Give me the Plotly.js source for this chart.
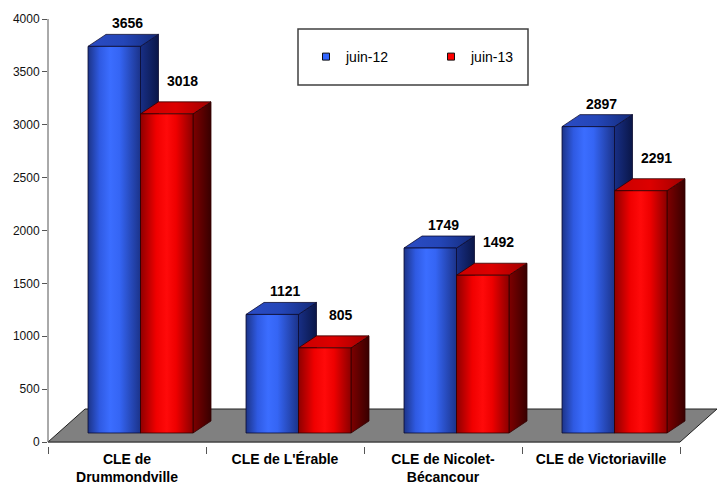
<!DOCTYPE html>
<html>
<head>
<meta charset="utf-8">
<script src="https://cdn.plot.ly/plotly-3.0.1.min.js"></script>
<style>html,body{margin:0;padding:0;background:#fff;}#chart{width:720px;height:487px;}</style>
</head>
<body>
<div id="chart"></div>
<script>
// ---- data ----
var categories = ['CLE de<br>Drummondville', "CLE de L'Érable", 'CLE de Nicolet-<br>Bécancour', 'CLE de Victoriaville'];
var seriesNames = ['juin-12', 'juin-13'];
var juin12 = [3656, 1121, 1749, 2897];
var juin13 = [3018, 805, 1492, 2291];
var yTickVals = [0, 500, 1000, 1500, 2000, 2500, 3000, 3500, 4000];

// ---- geometry (pixel-based look converted to data units) ----
var W = 720, H = 487;
var mL = 48, mR = 0, mT = 19, mB = 41;
var yMax = 4000;
var plotH = H - mT - mB;
var k = (442 - 19) / yMax;               // px per unit
var yMin = -(plotH - yMax * k) / k;
var ux = 158;                            // px per category
var plotW = W - mL - mR;
var xMin = -0.5, xMax = xMin + plotW / ux;

var pairShift = 13.5, barW = 52.5, depthX = 18, depthY = 12, lift = 9;
var floorDX = 37, floorDY = 33;

var palettes = [
  { front: [[0,'#1c3488'],[0.22,'#2f5ae2'],[0.42,'#3b6dff'],[0.6,'#3565f4'],[1,'#1b338a']],
    top:   [[0,'#2b4cc4'],[0.5,'#2446b8'],[1,'#132a78']],
    side:  [[0,'#182f86'],[1,'#0a1648']],
    edge: '#0a0a30', legend: '#3366ff' },
  { front: [[0,'#8e0000'],[0.3,'#f00000'],[0.5,'#ff0a0a'],[0.68,'#ee0000'],[1,'#8a0000']],
    top:   [[0,'#c80000'],[0.5,'#dd0000'],[1,'#a00000']],
    side:  [[0,'#7e0000'],[1,'#380000']],
    edge: '#300000', legend: '#ff0000' }
];

var traces = [];
var shapes = [];
var annotations = [];

// floor
var fdx = floorDX / ux, fdy = floorDY / k;
traces.push({
  type: 'scatter', mode: 'lines', fill: 'toself', fillcolor: '#808080',
  x: [-0.5, 3.5, 3.5 + fdx, -0.5 + fdx, -0.5],
  y: [0, 0, fdy, fdy, 0],
  line: { color: '#202020', width: 1 }, hoverinfo: 'skip', showlegend: false
});

function poly(xs, ys, scale, edge) {
  var lo = Math.min.apply(null, xs), hi = Math.max.apply(null, xs);
  return {
    type: 'scatter', mode: 'lines', fill: 'toself',
    x: xs.concat([xs[0]]), y: ys.concat([ys[0]]),
    fillgradient: { type: 'horizontal', colorscale: scale, start: lo, stop: hi },
    line: { color: edge, width: 0.8 }, hoverinfo: 'skip', showlegend: false
  };
}

var series = [juin12, juin13];
for (var i = 0; i < categories.length; i++) {
  for (var s = 0; s < 2; s++) {
    var v = series[s][i];
    var p = palettes[s];
    var xL = i + (pairShift - barW + s * barW) / ux;
    var xR = xL + barW / ux;
    var yB = lift / k, yT = v + lift / k;
    var dx = depthX / ux, dy = depthY / k;
    traces.push(poly([xR, xR + dx, xR + dx, xR], [yB, yB + dy, yT + dy, yT], p.side, p.edge));
    traces.push(poly([xL, xR, xR + dx, xL + dx], [yT, yT, yT + dy, yT + dy], p.top, p.edge));
    traces.push(poly([xL, xR, xR, xL], [yB, yB, yT, yT], p.front, p.edge));
    annotations.push({
      x: (xL + xR) / 2 + (s === 0 ? 13 : 16) / ux, y: v, xref: 'x', yref: 'y',
      text: String(v), showarrow: false, yanchor: 'middle', xanchor: 'center',
      yshift: s === 0 ? 32 : 42,
      font: { family: 'Liberation Sans, Arial, sans-serif', size: 14, color: '#000', weight: 'bold' }
    });
  }
}

// legend entries
for (var s2 = 0; s2 < 2; s2++) {
  traces.push({
    type: 'scatter', mode: 'markers', x: [null], y: [null], name: seriesNames[s2],
    marker: { symbol: 'square', size: 7, color: palettes[s2].legend, line: { color: '#101010', width: 1 } },
    showlegend: true, hoverinfo: 'skip'
  });
}

// axis lines and legend box
shapes.push({ type: 'line', xref: 'paper', yref: 'y', x0: 0, x1: 0, y0: 0, y1: yMax, line: { color: '#555', width: 1 } });
shapes.push({ type: 'line', xref: 'x', yref: 'y', x0: -0.5, x1: 3.5, y0: 0, y1: 0, line: { color: '#555', width: 1 } });
function px2paperX(px) { return (px - mL) / plotW; }
function px2paperY(py) { return (H - mB - py) / plotH; }
shapes.push({ type: 'rect', xref: 'paper', yref: 'paper',
  x0: px2paperX(298), x1: px2paperX(528), y0: px2paperY(85), y1: px2paperY(29),
  line: { color: '#404040', width: 1.5 }, fillcolor: 'rgba(0,0,0,0)', layer: 'above' });

var layout = {
  width: W, height: H,
  margin: { l: mL, r: mR, t: mT, b: mB, pad: 0 },
  paper_bgcolor: '#fff', plot_bgcolor: 'rgba(0,0,0,0)',
  font: { family: 'Liberation Sans, Arial, sans-serif', color: '#111' },
  showlegend: true,
  legend: {
    orientation: 'h', x: px2paperX(306), y: px2paperY(57), xanchor: 'left', yanchor: 'middle',
    bgcolor: 'rgba(0,0,0,0)', borderwidth: 0, entrywidth: 80,
    font: { family: 'Liberation Sans, Arial, sans-serif', size: 14, color: '#000' }
  },
  xaxis: {
    type: 'linear', range: [xMin, xMax], showgrid: false, zeroline: false, showline: false,
    tickmode: 'array', tickvals: [0, 1, 2, 3], ticktext: categories, ticks: '',
    ticklabelstandoff: 3,
    tickfont: { family: 'Liberation Sans, Arial, sans-serif', size: 14, color: '#000', weight: 'bold' },
    minor: { tickmode: 'array', tickvals: [-0.5, 0.5, 1.5, 2.5, 3.5], ticks: 'outside', ticklen: 7, tickcolor: '#555', tickwidth: 1 },
    fixedrange: true
  },
  yaxis: {
    range: [yMin, yMax], showgrid: false, zeroline: false, showline: false,
    tickmode: 'array', tickvals: yTickVals, ticks: 'outside', ticklen: 5, tickcolor: '#555',
    tickfont: { family: 'Liberation Sans, Arial, sans-serif', size: 12, color: '#111' },
    fixedrange: true
  },
  shapes: shapes,
  annotations: annotations
};

Plotly.newPlot('chart', traces, layout, { staticPlot: true, displayModeBar: false });
</script>
</body>
</html>
